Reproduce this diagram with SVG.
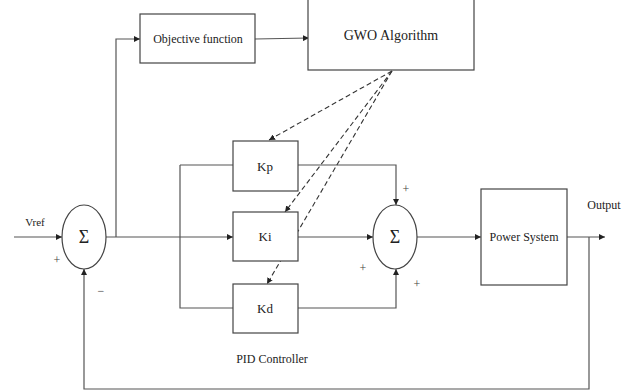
<svg xmlns="http://www.w3.org/2000/svg" width="629" height="392" viewBox="0 0 629 392">
<defs>
<marker id="ah" viewBox="0 0 10 10" refX="10" refY="5" markerWidth="6" markerHeight="6" markerUnits="userSpaceOnUse" orient="auto">
<path d="M0,0 L10,5 L0,10 z" fill="#222"/>
</marker>
</defs>
<style>
.box{fill:#fff;stroke:#444;stroke-width:1.2}
.ln{fill:none;stroke:#555;stroke-width:1.2}
.dash{fill:none;stroke:#333;stroke-width:1.1;stroke-dasharray:5,3}
text{font-family:"Liberation Serif","Times New Roman",serif;fill:#222}
.t{font-size:12px;text-anchor:middle}
.k{font-size:13px;text-anchor:middle}
.s{font-size:18px;text-anchor:middle}
.p{font-size:12px;text-anchor:middle;fill:#444}
</style>
<rect width="629" height="392" fill="#fff"/>
<g id="connectors">
<path class="ln" d="M14,237 H62" marker-end="url(#ah)"/>
<path class="ln" d="M106,237 H233" marker-end="url(#ah)"/>
<path class="ln" d="M116,237 V39 H140" marker-end="url(#ah)"/>
<path class="ln" d="M255,39 L309,38" marker-end="url(#ah)"/>
<path class="ln" d="M180,165 H233 M180,165 V308 H233"/>
<path class="ln" d="M298,165 H396 V205" marker-end="url(#ah)"/>
<path class="ln" d="M298,237 H373" marker-end="url(#ah)"/>
<path class="ln" d="M298,308 H396 V269" marker-end="url(#ah)"/>
<path class="ln" d="M417,237 H481" marker-end="url(#ah)"/>
<path class="ln" d="M567,237 H605" marker-end="url(#ah)"/>
<path class="ln" d="M589,237 V389 H84 V269" marker-end="url(#ah)"/>
<path class="dash" d="M392,71 L269,140" marker-end="url(#ah)"/>
<path class="dash" d="M392,71 L285,212" marker-end="url(#ah)"/>
<path class="dash" d="M392,71 L267,284" marker-end="url(#ah)"/>
</g>
<g id="sum1">
<ellipse class="box" cx="84" cy="237" rx="22" ry="32"/>
<text class="s" x="84" y="243">Σ</text>
</g>
<g id="objective">
<rect class="box" x="140" y="14" width="115" height="49"/>
<text class="t" x="198" y="43" style="font-size:12px">Objective function</text>
</g>
<g id="gwo">
<rect class="box" x="308" y="-2" width="166" height="72"/>
<text class="t" x="391" y="40" style="font-size:14px">GWO Algorithm</text>
</g>
<g id="kp">
<rect class="box" x="233" y="141" width="65" height="50"/>
<text class="k" x="265" y="171">Kp</text>
</g>
<g id="ki">
<rect class="box" x="233" y="212" width="65" height="49"/>
<text class="k" x="265" y="241">Ki</text>
</g>
<g id="kd">
<rect class="box" x="233" y="284" width="65" height="49"/>
<text class="k" x="265" y="313">Kd</text>
</g>
<g id="sum2">
<ellipse class="box" cx="395" cy="237" rx="22" ry="32"/>
<text class="s" x="395" y="243">Σ</text>
</g>
<g id="power">
<rect class="box" x="481" y="189" width="86" height="96"/>
<text class="t" x="524" y="241">Power System</text>
</g>
<g id="labels">
<text class="t" x="35" y="226" style="font-size:11px">Vref</text>
<text class="p" x="57" y="264">+</text>
<text class="p" x="101" y="295">−</text>
<text class="p" x="406" y="193">+</text>
<text class="p" x="363" y="272">+</text>
<text class="p" x="417" y="288">+</text>
<text class="t" x="604" y="209">Output</text>
<text class="t" x="272" y="363">PID Controller</text>
</g>
</svg>
